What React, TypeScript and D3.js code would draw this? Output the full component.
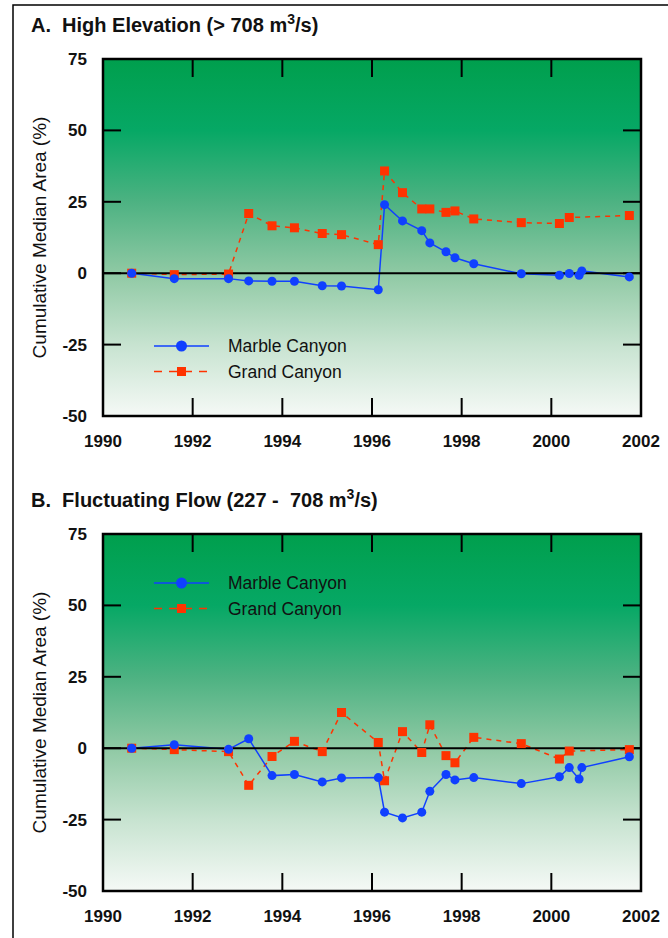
import * as d3 from "d3";

// survey dates (decimal years) shared by each reach
const marbleYears = [1990.64, 1991.59, 1992.8, 1993.25, 1993.77, 1994.27, 1994.89, 1995.32, 1996.14, 1996.28, 1996.68, 1997.11, 1997.29, 1997.65, 1997.85, 1998.27, 1999.33, 2000.18, 2000.4, 2000.62, 2000.68, 2001.74];
const grandYears = [1990.64, 1991.59, 1992.8, 1993.25, 1993.77, 1994.27, 1994.89, 1995.32, 1996.14, 1996.28, 1996.68, 1997.11, 1997.29, 1997.65, 1997.85, 1998.27, 1999.33, 2000.18, 2000.4, 2001.74];

// A. high elevation
const marbleHigh = [0, -1.9, -1.9, -2.7, -2.8, -2.8, -4.4, -4.5, -5.8, 24.0, 18.3, 14.9, 10.6, 7.5, 5.4, 3.3, -0.2, -0.7, -0.1, -0.7, 0.8, -1.3];
const grandHigh = [0, -0.5, -0.3, 20.9, 16.6, 15.9, 13.9, 13.5, 10.0, 35.8, 28.2, 22.5, 22.5, 21.3, 21.8, 19.0, 17.7, 17.4, 19.5, 20.2];

// B. fluctuating flow
const marbleFluct = [0, 1.2, -0.4, 3.3, -9.6, -9.2, -11.8, -10.4, -10.3, -22.4, -24.4, -22.4, -15.1, -9.2, -11.1, -10.3, -12.4, -10.0, -6.8, -10.8, -6.8, -3.0];
const grandFluct = [0, -0.5, -1.2, -13.0, -2.9, 2.4, -1.2, 12.5, 2.0, -11.4, 5.8, -1.5, 8.2, -2.6, -5.1, 3.8, 1.6, -3.8, -1.0, -0.5];

const yTicks = [75, 50, 25, 0, -25, -50];
const xTicks = [1990, 1992, 1994, 1996, 1998, 2000, 2002];
const seriesNames = ["Marble Canyon", "Grand Canyon"];

const FONT = "'Liberation Sans', Arial, Helvetica, sans-serif";
const BLUE = "#1040ff";
const RED = "#ff3300";
const left = 103;
const right = 641;
const plotH = 357;
const tickLen = 18;

const x = d3.scaleLinear().domain([1990, 2002]).range([left, right]);

function Panel({ top, label, range, marble, grand, legendTop, gid }: any) {
  const y = d3.scaleLinear().domain([-50, 75]).range([top + plotH, top]);
  const mPts = marbleYears.map((yr, i) => [x(yr), y(marble[i])] as [number, number]);
  const gPts = grandYears.map((yr, i) => [x(yr), y(grand[i])] as [number, number]);
  const line = d3.line();
  const midY = top + plotH / 2;
  return (
    <g>
      <text x={31} y={top - 27} fontFamily={FONT} fontSize={20} fontWeight="bold" fill="#111">
        {label}
        <tspan xmlSpace="preserve">{"  " + range + " m"}</tspan>
        <tspan fontSize={14} dy={-8}>3</tspan>
        <tspan dy={8}>/s)</tspan>
      </text>
      <rect x={left} y={top} width={right - left} height={plotH} fill={`url(#${gid})`} />
      {/* tick marks, all inward */}
      {yTicks.map((t) => (
        <g key={"y" + t}>
          <line x1={left} x2={left + tickLen} y1={y(t)} y2={y(t)} stroke="#000" strokeWidth={2} />
          <line x1={right - tickLen} x2={right} y1={y(t)} y2={y(t)} stroke="#000" strokeWidth={2} />
          <text x={87} y={y(t)} dy="0.35em" textAnchor="end" fontFamily={FONT} fontSize={17} fontWeight="bold" fill="#111">
            {t}
          </text>
        </g>
      ))}
      {xTicks.map((t) => (
        <g key={"x" + t}>
          <line x1={x(t)} x2={x(t)} y1={top} y2={top + tickLen} stroke="#000" strokeWidth={2} />
          <line x1={x(t)} x2={x(t)} y1={top + plotH - tickLen} y2={top + plotH} stroke="#000" strokeWidth={2} />
          <text x={x(t)} y={top + plotH + 31} textAnchor="middle" fontFamily={FONT} fontSize={17} fontWeight="bold" fill="#111">
            {t}
          </text>
        </g>
      ))}
      <text
        transform={`translate(46,${midY}) rotate(-90)`}
        textAnchor="middle"
        fontFamily={FONT}
        fontSize={19}
        fill="#111"
      >
        Cumulative Median Area (%)
      </text>
      {/* series lines */}
      <path d={line(gPts) || ""} fill="none" stroke={RED} strokeWidth={1.5} strokeDasharray="5,5" />
      <path d={line(mPts) || ""} fill="none" stroke={BLUE} strokeWidth={1.5} />
      <line x1={left} x2={right} y1={y(0)} y2={y(0)} stroke="#000" strokeWidth={2} />
      {gPts.map((p, i) => (
        <rect key={"g" + i} x={p[0] - 4.5} y={p[1] - 4.5} width={9} height={9} fill={RED} />
      ))}
      {mPts.map((p, i) => (
        <circle key={"m" + i} cx={p[0]} cy={p[1]} r={4.5} fill={BLUE} />
      ))}
      {/* legend */}
      <g>
        <line x1={154} x2={209} y1={top + legendTop} y2={top + legendTop} stroke={BLUE} strokeWidth={1.5} />
        <circle cx={181.5} cy={top + legendTop} r={5.5} fill={BLUE} />
        <text x={228} y={top + legendTop} dy="0.35em" fontFamily={FONT} fontSize={17.5} fill="#111">
          {seriesNames[0]}
        </text>
        <line x1={154} x2={209} y1={top + legendTop + 25.5} y2={top + legendTop + 25.5} stroke={RED} strokeWidth={1.5} strokeDasharray="8,7" />
        <rect x={177} y={top + legendTop + 21} width={9} height={9} fill={RED} />
        <text x={228} y={top + legendTop + 25.5} dy="0.35em" fontFamily={FONT} fontSize={17.5} fill="#111">
          {seriesNames[1]}
        </text>
      </g>
      <rect x={left} y={top} width={right - left} height={plotH} fill="none" stroke="#000" strokeWidth={2.5} />
    </g>
  );
}

export default function App() {
  return (
    <svg
      width={668}
      height={938}
      style={{ position: "absolute", left: 0, top: 0, background: "#fff" }}
    >
      <defs>
        {["gradA", "gradB"].map((id) => (
          <linearGradient key={id} id={id} x1="0" y1="0" x2="0" y2="1">
            <stop offset="0" stopColor="#009f4d" />
            <stop offset="0.2" stopColor="#06a865" />
            <stop offset="0.4" stopColor="#4db282" />
            <stop offset="0.6" stopColor="#8fc9a4" />
            <stop offset="0.8" stopColor="#c7e3d0" />
            <stop offset="1" stopColor="#f5f9f6" />
          </linearGradient>
        ))}
      </defs>
      <rect x={13} y={5} width={700} height={1000} fill="none" stroke="#000" strokeWidth={1.5} />
      <Panel top={59} label="A." range="High Elevation (> 708" marble={marbleHigh} grand={grandHigh} legendTop={287} gid="gradA" />
      <Panel top={534} label="B." range="Fluctuating Flow (227 -  708" marble={marbleFluct} grand={grandFluct} legendTop={49} gid="gradB" />
    </svg>
  );
}
